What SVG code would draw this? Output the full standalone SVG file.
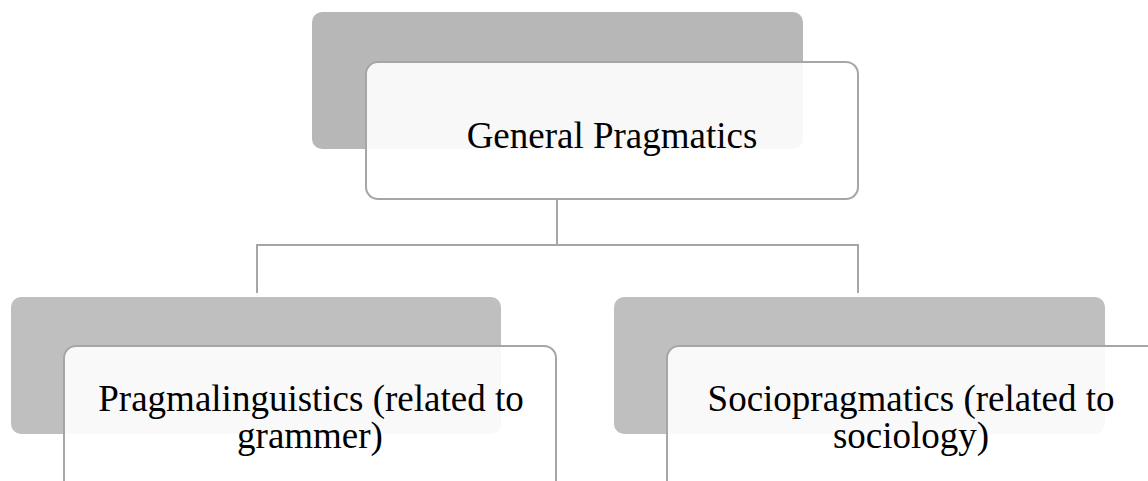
<svg xmlns="http://www.w3.org/2000/svg" width="1148" height="481" viewBox="0 0 1148 481">
<style>
.back{fill:#bfbfbf;}
.front{fill:#ffffff;fill-opacity:0.9;stroke:#a6a6a6;stroke-width:2;}
.conn{fill:none;stroke:#a6a6a6;stroke-width:2;}
.lbl{font-family:"Liberation Serif","Times New Roman",serif;font-size:37px;fill:#000;text-anchor:middle;}
</style>
<rect width="1148" height="481" fill="#ffffff"/>
<g id="connectors">
<path class="conn" d="M557 199 V245 M257 293 V245 H858 V293"/>
</g>
<g id="general">
<rect class="back" x="312" y="12" width="491" height="137" rx="10" style="fill:#b7b7b7"/>
<rect class="front" x="366" y="62" width="492" height="137" rx="12"/>
<text class="lbl" x="612" y="148">General Pragmatics</text>
</g>
<g id="pragmalinguistics">
<rect class="back" x="11" y="297" width="490" height="137" rx="10"/>
<rect class="front" x="64" y="346" width="492" height="150" rx="12"/>
<text class="lbl" x="311" y="411">Pragmalinguistics (related to</text>
<text class="lbl" x="310" y="448">grammer)</text>
</g>
<g id="sociopragmatics">
<rect class="back" x="614" y="297" width="491" height="137" rx="10"/>
<rect class="front" x="667" y="346" width="500" height="150" rx="12"/>
<text class="lbl" x="911" y="411">Sociopragmatics (related to</text>
<text class="lbl" x="911" y="448">sociology)</text>
</g>
</svg>
